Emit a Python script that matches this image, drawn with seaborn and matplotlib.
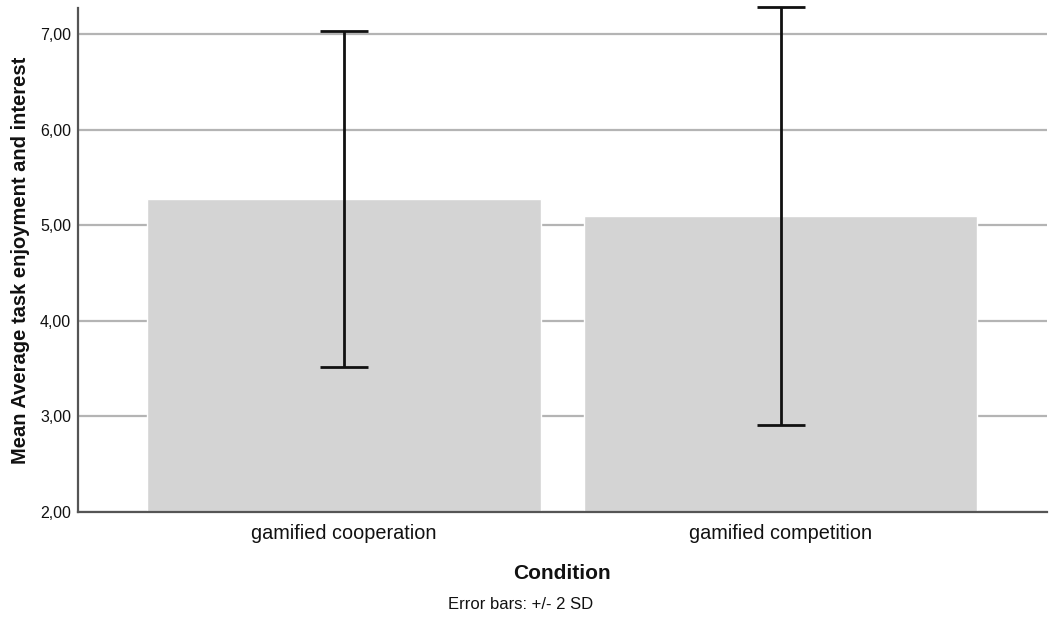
import matplotlib
matplotlib.use("Agg")
import matplotlib.pyplot as plt
import seaborn as sns
import pandas as pd
import numpy as np

conditions = ["gamified cooperation", "gamified competition"]
means = [5.27, 5.10]
sds = [0.878, 1.093]
yticks = [2, 3, 4, 5, 6, 7]
ytick_labels = ["2,00", "3,00", "4,00", "5,00", "6,00", "7,00"]

sns.set_theme(style="white")
plt.rcParams['font.family'] = ['Liberation Sans', 'DejaVu Sans']

fig = plt.figure(figsize=(10.5, 6.24), dpi=100)
ax = fig.add_axes([0.0743, 0.1795, 0.9227, 0.8075])

df = pd.DataFrame({"Condition": conditions, "Mean": means})
sns.barplot(data=df, x="Condition", y="Mean", color="#d4d4d4", saturation=1,
            width=0.9, errorbar=None, ax=ax, zorder=2)
eb = ax.errorbar(x=np.arange(len(conditions)), y=means, yerr=[2 * s for s in sds],
                 fmt="none", ecolor="#111111", elinewidth=2, capsize=17.3, capthick=2, zorder=3)
for artist in list(eb.lines[1]) + list(eb.lines[2]):
    artist.set_clip_on(False)

ax.set_ylim(2, 7.27)
ax.set_xlim(-0.609, 1.609)
ax.set_yticks(yticks)
ax.set_yticklabels(ytick_labels, fontsize=11.5)
ax.yaxis.grid(True, color="#b4b4b4", linewidth=1.6, zorder=0)
ax.set_axisbelow(True)
ax.tick_params(axis="y", length=0, pad=5, labelcolor="#111111")
ax.tick_params(axis="x", length=0, pad=9, labelsize=14.3, labelcolor="#111111")

for s in ["top", "right"]:
    ax.spines[s].set_visible(False)
ax.spines["left"].set_color("#555555")
ax.spines["left"].set_linewidth(1.6)
ax.spines["bottom"].set_color("#555555")
ax.spines["bottom"].set_linewidth(1.6)

ax.set_xlabel("Condition", fontsize=15, fontweight="bold", labelpad=15, color="#111111")
ax.set_ylabel("Mean Average task enjoyment and interest", fontsize=14.5,
              fontweight="bold", labelpad=7, color="#111111")

fig.text(0.496, 0.031, "Error bars: +/- 2 SD", ha="center", va="center",
         fontsize=12, color="#111111")

fig.savefig("out.png", dpi=100)
